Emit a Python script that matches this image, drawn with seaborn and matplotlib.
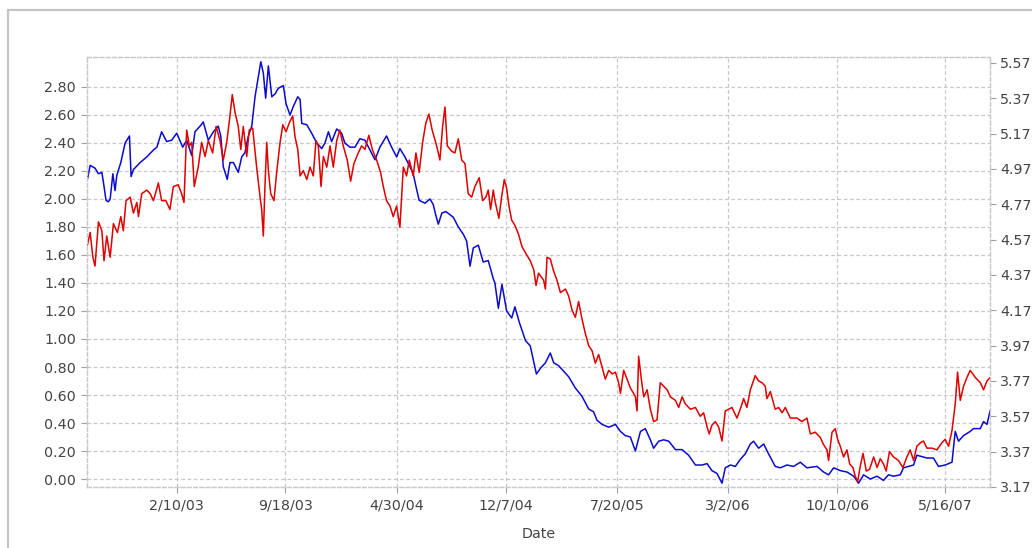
import matplotlib
matplotlib.use("Agg")
import matplotlib.pyplot as plt
import matplotlib.ticker as mticker
from matplotlib.patches import Rectangle
import pandas as pd
import seaborn as sns

# ---- series 1 (left axis, blue): time as decimal years ----
blue_years = [
    2002.613, 2002.628, 2002.655, 2002.674, 2002.693, 2002.705, 2002.716, 2002.729, 2002.739, 2002.754,
    2002.766, 2002.776, 2002.798, 2002.822, 2002.846, 2002.855, 2002.868, 2002.905, 2002.942, 2002.979,
    2002.998, 2003.025, 2003.053, 2003.081, 2003.109, 2003.142, 2003.164, 2003.192, 2003.210, 2003.238,
    2003.256, 2003.284, 2003.312, 2003.339, 2003.353, 2003.367, 2003.389, 2003.404, 2003.423, 2003.450,
    2003.469, 2003.487, 2003.506, 2003.525, 2003.543, 2003.561, 2003.575, 2003.589, 2003.602, 2003.617,
    2003.636, 2003.654, 2003.672, 2003.700, 2003.715, 2003.737, 2003.755, 2003.780, 2003.793, 2003.802,
    2003.830, 2003.857, 2003.885, 2003.913, 2003.931, 2003.950, 2003.968, 2003.996, 2004.024, 2004.042,
    2004.070, 2004.098, 2004.125, 2004.153, 2004.181, 2004.209, 2004.236, 2004.273, 2004.301, 2004.329,
    2004.347, 2004.375, 2004.403, 2004.421, 2004.436, 2004.454, 2004.486, 2004.514, 2004.532, 2004.547,
    2004.560, 2004.580, 2004.602, 2004.643, 2004.671, 2004.698, 2004.717, 2004.736, 2004.754, 2004.782,
    2004.809, 2004.837, 2004.865, 2004.874, 2004.893, 2004.913, 2004.939, 2004.967, 2004.985, 2005.007,
    2005.041, 2005.068, 2005.102, 2005.124, 2005.152, 2005.179, 2005.198, 2005.225, 2005.253, 2005.281,
    2005.318, 2005.355, 2005.392, 2005.419, 2005.438, 2005.466, 2005.503, 2005.540, 2005.568, 2005.595,
    2005.623, 2005.651, 2005.679, 2005.706, 2005.734, 2005.752, 2005.780, 2005.808, 2005.836, 2005.873,
    2005.910, 2005.946, 2005.984, 2006.021, 2006.049, 2006.076, 2006.104, 2006.132, 2006.150, 2006.178,
    2006.206, 2006.233, 2006.261, 2006.289, 2006.307, 2006.335, 2006.363, 2006.390, 2006.427, 2006.455,
    2006.492, 2006.529, 2006.566, 2006.603, 2006.659, 2006.695, 2006.723, 2006.751, 2006.788, 2006.825,
    2006.862, 2006.889, 2006.917, 2006.954, 2006.992, 2007.028, 2007.056, 2007.084, 2007.121, 2007.139,
    2007.167, 2007.195, 2007.213, 2007.241, 2007.269, 2007.305, 2007.333, 2007.370, 2007.408, 2007.426,
    2007.444, 2007.472, 2007.509, 2007.527, 2007.565, 2007.583, 2007.602, 2007.620,
]
blue_values = [
    2.14, 2.24, 2.22, 2.18, 2.19, 2.09, 1.99, 1.98, 2.00, 2.18,
    2.06, 2.17, 2.26, 2.40, 2.45, 2.16, 2.21, 2.26, 2.30, 2.35,
    2.37, 2.48, 2.41, 2.42, 2.47, 2.37, 2.42, 2.31, 2.48, 2.52,
    2.55, 2.42, 2.48, 2.52, 2.45, 2.23, 2.14, 2.26, 2.26, 2.19,
    2.30, 2.33, 2.45, 2.52, 2.73, 2.87, 2.98, 2.90, 2.72, 2.95,
    2.73, 2.75, 2.79, 2.81, 2.68, 2.60, 2.66, 2.73, 2.71, 2.54,
    2.53, 2.47, 2.40, 2.36, 2.40, 2.48, 2.41, 2.50, 2.47, 2.40,
    2.37, 2.37, 2.43, 2.42, 2.35, 2.28, 2.37, 2.45, 2.37, 2.30,
    2.36, 2.30, 2.23, 2.18, 2.09, 1.99, 1.97, 2.00, 1.96, 1.88,
    1.82, 1.90, 1.91, 1.87, 1.80, 1.75, 1.70, 1.52, 1.65, 1.67,
    1.55, 1.56, 1.43, 1.40, 1.22, 1.39, 1.20, 1.15, 1.23, 1.12,
    0.99, 0.95, 0.75, 0.79, 0.83, 0.90, 0.83, 0.81, 0.77, 0.73,
    0.65, 0.59, 0.50, 0.48, 0.42, 0.39, 0.37, 0.39, 0.34, 0.31,
    0.30, 0.20, 0.34, 0.36, 0.28, 0.22, 0.27, 0.28, 0.27, 0.21,
    0.21, 0.17, 0.10, 0.10, 0.11, 0.06, 0.04, -0.03, 0.08, 0.10,
    0.09, 0.14, 0.18, 0.25, 0.27, 0.22, 0.25, 0.18, 0.09, 0.08,
    0.10, 0.09, 0.12, 0.08, 0.09, 0.05, 0.03, 0.08, 0.06, 0.05,
    0.02, -0.03, 0.03, 0.00, 0.02, -0.01, 0.03, 0.02, 0.03, 0.08,
    0.09, 0.10, 0.17, 0.16, 0.15, 0.15, 0.09, 0.10, 0.12, 0.34,
    0.27, 0.31, 0.34, 0.36, 0.36, 0.41, 0.39, 0.49,
]

# ---- series 2 (right axis, red): time as decimal years ----
red_years = [
    2002.613, 2002.628, 2002.643, 2002.655, 2002.674, 2002.693, 2002.705, 2002.720, 2002.739, 2002.757,
    2002.779, 2002.798, 2002.812, 2002.827, 2002.850, 2002.868, 2002.887, 2002.896, 2002.914, 2002.942,
    2002.961, 2002.979, 2003.007, 2003.025, 2003.049, 2003.071, 2003.090, 2003.117, 2003.136, 2003.149,
    2003.164, 2003.179, 2003.192, 2003.206, 2003.228, 2003.247, 2003.266, 2003.284, 2003.308, 2003.327,
    2003.349, 2003.367, 2003.386, 2003.404, 2003.417, 2003.432, 2003.450, 2003.464, 2003.478, 2003.497,
    2003.511, 2003.530, 2003.552, 2003.571, 2003.580, 2003.589, 2003.598, 2003.608, 2003.617, 2003.630,
    2003.648, 2003.663, 2003.682, 2003.697, 2003.715, 2003.733, 2003.752, 2003.765, 2003.780, 2003.793,
    2003.811, 2003.830, 2003.848, 2003.866, 2003.881, 2003.894, 2003.909, 2003.922, 2003.941, 2003.959,
    2003.977, 2003.996, 2004.014, 2004.033, 2004.055, 2004.074, 2004.092, 2004.116, 2004.135, 2004.153,
    2004.175, 2004.194, 2004.218, 2004.240, 2004.255, 2004.273, 2004.292, 2004.310, 2004.329, 2004.347,
    2004.366, 2004.384, 2004.399, 2004.421, 2004.436, 2004.454, 2004.473, 2004.491, 2004.508, 2004.526,
    2004.551, 2004.569, 2004.584, 2004.597, 2004.610, 2004.634, 2004.652, 2004.671, 2004.690, 2004.708,
    2004.726, 2004.745, 2004.763, 2004.787, 2004.806, 2004.824, 2004.837, 2004.850, 2004.865, 2004.874,
    2004.896, 2004.911, 2004.926, 2004.939, 2004.952, 2004.967, 2004.985, 2005.003, 2005.022, 2005.050,
    2005.068, 2005.087, 2005.100, 2005.114, 2005.142, 2005.152, 2005.161, 2005.179, 2005.198, 2005.216,
    2005.235, 2005.263, 2005.281, 2005.300, 2005.318, 2005.336, 2005.355, 2005.373, 2005.392, 2005.411,
    2005.429, 2005.447, 2005.466, 2005.484, 2005.503, 2005.522, 2005.540, 2005.558, 2005.568, 2005.586,
    2005.605, 2005.623, 2005.641, 2005.651, 2005.660, 2005.669, 2005.684, 2005.697, 2005.716, 2005.734,
    2005.752, 2005.771, 2005.789, 2005.808, 2005.827, 2005.845, 2005.873, 2005.891, 2005.910, 2005.928,
    2005.956, 2005.984, 2006.011, 2006.030, 2006.049, 2006.061, 2006.076, 2006.095, 2006.113, 2006.132,
    2006.150, 2006.168, 2006.187, 2006.215, 2006.233, 2006.252, 2006.270, 2006.289, 2006.316, 2006.335,
    2006.354, 2006.372, 2006.381, 2006.400, 2006.427, 2006.446, 2006.465, 2006.483, 2006.511, 2006.548,
    2006.575, 2006.603, 2006.622, 2006.649, 2006.677, 2006.695, 2006.714, 2006.723, 2006.742, 2006.760,
    2006.773, 2006.788, 2006.806, 2006.825, 2006.840, 2006.858, 2006.871, 2006.884, 2006.899, 2006.914,
    2006.932, 2006.950, 2006.973, 2006.992, 2007.010, 2007.028, 2007.043, 2007.061, 2007.084, 2007.111,
    2007.136, 2007.158, 2007.176, 2007.195, 2007.213, 2007.232, 2007.250, 2007.269, 2007.297, 2007.324,
    2007.352, 2007.370, 2007.389, 2007.408, 2007.426, 2007.439, 2007.454, 2007.472, 2007.491, 2007.509,
    2007.537, 2007.565, 2007.583, 2007.602, 2007.620,
]
red_values = [
    4.54, 4.61, 4.47, 4.42, 4.67, 4.62, 4.45, 4.59, 4.47, 4.66,
    4.61, 4.70, 4.62, 4.79, 4.81, 4.72, 4.78, 4.70, 4.83, 4.85,
    4.83, 4.79, 4.89, 4.79, 4.79, 4.74, 4.87, 4.88, 4.83, 4.78,
    5.19, 5.10, 5.12, 4.87, 4.98, 5.12, 5.04, 5.13, 5.06, 5.21,
    5.13, 5.02, 5.12, 5.27, 5.39, 5.29, 5.21, 5.08, 5.21, 5.04,
    5.19, 5.20, 4.98, 4.81, 4.74, 4.59, 4.87, 5.12, 4.96, 4.83,
    4.79, 4.95, 5.12, 5.22, 5.18, 5.23, 5.27, 5.15, 5.08, 4.93,
    4.96, 4.91, 4.98, 4.93, 5.13, 5.10, 4.87, 5.04, 4.98, 5.10,
    4.98, 5.13, 5.19, 5.10, 5.02, 4.90, 5.00, 5.06, 5.10, 5.08,
    5.16, 5.08, 5.02, 4.95, 4.87, 4.79, 4.76, 4.70, 4.76, 4.64,
    4.98, 4.93, 5.02, 4.93, 5.06, 4.95, 5.12, 5.23, 5.28, 5.19,
    5.10, 5.02, 5.21, 5.32, 5.10, 5.07, 5.06, 5.14, 5.02, 5.00,
    4.83, 4.81, 4.87, 4.92, 4.79, 4.81, 4.85, 4.74, 4.85, 4.79,
    4.69, 4.81, 4.91, 4.86, 4.76, 4.68, 4.65, 4.60, 4.53, 4.48,
    4.45, 4.40, 4.31, 4.38, 4.34, 4.29, 4.47, 4.46, 4.39, 4.34,
    4.27, 4.29, 4.25, 4.17, 4.13, 4.22, 4.12, 4.04, 3.97, 3.94,
    3.87, 3.92, 3.85, 3.78, 3.83, 3.81, 3.82, 3.76, 3.70, 3.83,
    3.78, 3.73, 3.70, 3.68, 3.60, 3.91, 3.78, 3.68, 3.72, 3.61,
    3.54, 3.55, 3.76, 3.74, 3.72, 3.68, 3.66, 3.62, 3.68, 3.64,
    3.61, 3.62, 3.57, 3.59, 3.51, 3.47, 3.52, 3.54, 3.51, 3.43,
    3.60, 3.61, 3.62, 3.56, 3.61, 3.67, 3.62, 3.72, 3.80, 3.77,
    3.76, 3.74, 3.67, 3.71, 3.61, 3.62, 3.59, 3.62, 3.56, 3.56,
    3.54, 3.56, 3.47, 3.48, 3.45, 3.41, 3.38, 3.32, 3.48, 3.50,
    3.44, 3.40, 3.34, 3.38, 3.30, 3.28, 3.23, 3.20, 3.29, 3.36,
    3.26, 3.27, 3.34, 3.28, 3.33, 3.30, 3.26, 3.37, 3.34, 3.32,
    3.28, 3.34, 3.38, 3.32, 3.40, 3.42, 3.43, 3.39, 3.39, 3.38,
    3.42, 3.44, 3.40, 3.49, 3.64, 3.82, 3.66, 3.74, 3.79, 3.83,
    3.79, 3.76, 3.72, 3.77, 3.79,
]

# ---- axis ticks ----
x_tick_dates = ["2003-02-10", "2003-09-18", "2004-04-30", "2004-12-07",
                "2005-07-20", "2006-03-02", "2006-10-10", "2007-05-16"]
x_range = ["2002-08-12", "2007-08-15"]
left_ticks = [0.00, 0.20, 0.40, 0.60, 0.80, 1.00, 1.20, 1.40,
              1.60, 1.80, 2.00, 2.20, 2.40, 2.60, 2.80]
right_ticks = [3.17, 3.37, 3.57, 3.77, 3.97, 4.17, 4.37, 4.57,
               4.77, 4.97, 5.17, 5.37, 5.57]
left_range = (-0.057, 3.014)
right_range = (3.17, 5.603)


def decimal_years_to_dates(years):
    out = []
    for y in years:
        base = int(y)
        out.append(pd.Timestamp(year=base, month=1, day=1)
                   + pd.Timedelta(days=(y - base) * 365.25))
    return out


blue_df = pd.DataFrame({"date": decimal_years_to_dates(blue_years), "value": blue_values})
red_df = pd.DataFrame({"date": decimal_years_to_dates(red_years), "value": red_values})

sns.set_theme(style="white")
plt.rcParams["font.family"] = ["DejaVu Sans"]

W, H = 1032, 548
fig = plt.figure(figsize=(W / 100, H / 100), dpi=100)
ax = fig.add_axes([87 / W, 1 - 487 / H, (990 - 87) / W, (487 - 57) / H])
ax2 = ax.twinx()

sns.lineplot(data=blue_df, x="date", y="value", ax=ax, color="#0a0ad0",
             linewidth=1.1, estimator=None)
sns.lineplot(data=red_df, x="date", y="value", ax=ax2, color="#e00000",
             linewidth=1.1, estimator=None)

grid_color = "#c8c8c8"
dash = (0, (3, 2))
label_color = "#444444"
label_size = 10.3

ax.set_xlim(pd.Timestamp(x_range[0]), pd.Timestamp(x_range[1]))
ax.set_ylim(*left_range)
ax2.set_ylim(*right_range)

tick_ts = [pd.Timestamp(d) for d in x_tick_dates]
ax.set_xticks(tick_ts)
ax.set_xticklabels([f"{t.month}/{t.day}/{t.year % 100:02d}" for t in tick_ts])
ax.set_yticks(left_ticks)
ax.yaxis.set_major_formatter(mticker.FormatStrFormatter("%.2f"))
ax2.set_yticks(right_ticks)
ax2.yaxis.set_major_formatter(mticker.FormatStrFormatter("%.2f"))

ax.grid(True, color=grid_color, linestyle=dash, linewidth=0.9)
ax2.grid(False)

for a in (ax, ax2):
    for s in a.spines.values():
        s.set_color(grid_color)
        s.set_linestyle(dash)
        s.set_linewidth(0.9)

ax.tick_params(axis="both", which="major", labelsize=label_size, labelcolor=label_color,
               color="#a0a0a0", length=4, width=0.8, pad=4,
               left=True, bottom=True)
ax2.tick_params(axis="y", which="major", labelsize=label_size, labelcolor=label_color,
                color="#a0a0a0", length=4, width=0.8, pad=3.5, right=True)

ax.set_xlabel("Date", fontsize=label_size, color=label_color, labelpad=11)
ax.set_ylabel("")
ax2.set_ylabel("")

# light outer panel frame (top and left edges visible)
fig.add_artist(Rectangle((8 / W, -0.5), 2.0, 0.5 + (1 - 10 / H),
                         transform=fig.transFigure, fill=False,
                         edgecolor="#c4c4c4", linewidth=1.6))

fig.savefig("out.png", dpi=100)
